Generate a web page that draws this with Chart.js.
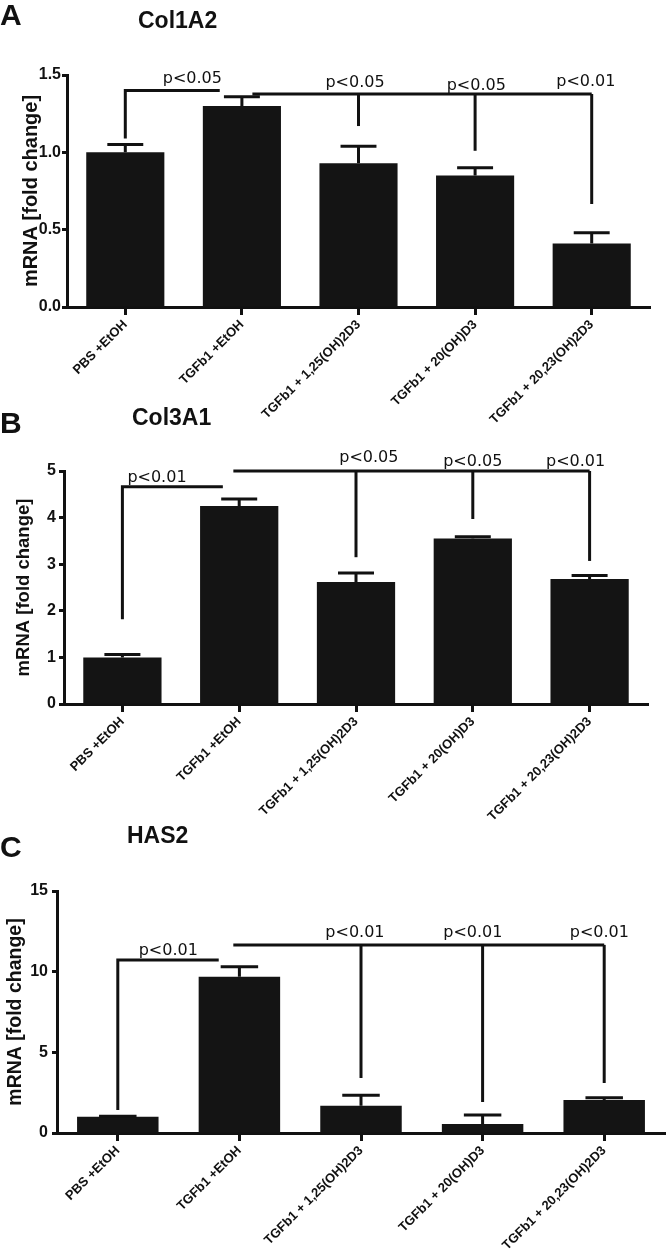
<!DOCTYPE html>
<html lang="en">
<head>
<meta charset="UTF-8">
<title>Col1A2 / Col3A1 / HAS2 mRNA</title>
<script src="https://cdn.jsdelivr.net/npm/chart.js"></script>
<style>
    body { margin: 0; background: #fff; }
    .wrap { position: relative; width: 666px; height: 1251px; overflow: hidden; }
    canvas { position: absolute; left: 0; }
</style>
</head>
<body>
<div class="wrap">
    <canvas id="chartA" width="666" height="430" style="top:0px"></canvas>
    <canvas id="chartB" width="666" height="430" style="top:400px"></canvas>
    <canvas id="chartC" width="666" height="431" style="top:820px"></canvas>
</div>
<script>
const groups = ['PBS +EtOH', 'TGFb1 +EtOH', 'TGFb1 + 1,25(OH)2D3', 'TGFb1 + 20(OH)D3', 'TGFb1 + 20,23(OH)2D3'];

// mean fold change and error (SEM) per group
const col1a2Mean = [1.00, 1.30, 0.93, 0.85, 0.41];
const col1a2Err  = [0.05, 0.06, 0.11, 0.05, 0.07];
const col3a1Mean = [1.00, 4.25, 2.62, 3.55, 2.68];
const col3a1Err  = [0.06, 0.15, 0.19, 0.04, 0.08];
const has2Mean   = [1.00, 9.69, 1.69, 0.56, 2.05];
const has2Err    = [0.04, 0.62, 0.65, 0.56, 0.14];

// significance brackets: points as [category index, value]
const col1a2Brackets = [
    [[0, 1.09], [0, 1.40], [0.81, 1.40]],
    [[1.09, 1.377], [4, 1.377]],
    [[2, 1.377], [2, 1.17]],
    [[3, 1.377], [3, 1.01]],
    [[4, 1.377], [4, 0.666]]
];
const col1a2Pvals = [['p<0.05', 0.575, 1.446], ['p<0.05', 1.97, 1.42], ['p<0.05', 3.01, 1.403], ['p<0.01', 3.95, 1.429]];

const col3a1Brackets = [
    [[0, 1.82], [0, 4.66], [0.86, 4.66]],
    [[0.95, 5.0], [4, 5.0]],
    [[2, 5.0], [2, 3.15]],
    [[3, 5.0], [3, 3.97]],
    [[4, 5.0], [4, 3.07]]
];
const col3a1Pvals = [['p<0.01', 0.296, 4.77], ['p<0.05', 2.11, 5.2], ['p<0.05', 3.0, 5.11], ['p<0.01', 3.88, 5.11]];

const has2Brackets = [
    [[0, 1.43], [0, 10.73], [0.83, 10.73]],
    [[0.95, 11.66], [4, 11.66]],
    [[2, 11.66], [2, 3.41]],
    [[3, 11.66], [3, 1.92]],
    [[4, 11.66], [4, 3.10]]
];
const has2Pvals = [['p<0.01', 0.415, 11.04], ['p<0.01', 1.95, 12.17], ['p<0.01', 2.92, 12.17], ['p<0.01', 3.96, 12.17]];

Chart.defaults.font.family = '"Liberation Sans", Arial, sans-serif';
Chart.defaults.color = '#111';

function makeChart(id, mean, err, brackets, pvals, o) {
    const extras = {
        id: 'extras',
        afterDatasetsDraw(chart) {
            const ctx = chart.ctx, xs = chart.scales.x, ys = chart.scales.y;
            const bars = chart.getDatasetMeta(0).data;
            ctx.save();
            ctx.strokeStyle = '#111';
            ctx.lineWidth = 3;
            // error bars
            bars.forEach((bar, i) => {
                const top = ys.getPixelForValue(mean[i] + err[i]);
                const half = bar.width * 0.23;
                ctx.beginPath();
                ctx.moveTo(bar.x, bar.y);
                ctx.lineTo(bar.x, top);
                ctx.moveTo(bar.x - half, top);
                ctx.lineTo(bar.x + half, top);
                ctx.stroke();
            });
            // brackets
            brackets.forEach(path => {
                ctx.beginPath();
                path.forEach(([i, v], k) => {
                    const px = xs.getPixelForValue(i), py = ys.getPixelForValue(v);
                    if (k) ctx.lineTo(px, py); else ctx.moveTo(px, py);
                });
                ctx.stroke();
            });
            ctx.fillStyle = '#111';
            ctx.font = '16px "DejaVu Sans"';
            ctx.textAlign = 'center';
            ctx.textBaseline = 'alphabetic';
            pvals.forEach(([t, i, v]) => {
                ctx.fillText(t, xs.getPixelForValue(i), ys.getPixelForValue(v));
            });
            // panel letter and title
            ctx.textAlign = 'left';
            ctx.font = 'bold 30px "Liberation Sans"';
            ctx.fillText(o.letter, 0, o.letterY);
            ctx.font = 'bold 23px "Liberation Sans"';
            ctx.fillText(o.title, o.titleX, o.titleY);
            ctx.restore();
        }
    };

    return new Chart(document.getElementById(id), {
        type: 'bar',
        data: {
            labels: groups,
            datasets: [{
                data: mean,
                backgroundColor: '#141414',
                borderWidth: 0,
                barPercentage: 0.67,
                categoryPercentage: 1
            }]
        },
        options: {
            responsive: false,
            animation: false,
            layout: { padding: { top: o.padTop, right: o.padRight, left: 0, bottom: 0 } },
            plugins: { legend: { display: false }, tooltip: { enabled: false } },
            scales: {
                x: {
                    offset: true,
                    grid: { display: true, drawOnChartArea: false, offset: false, tickLength: 8, tickWidth: 3, tickColor: '#111' },
                    border: { display: true, width: 3, color: '#111' },
                    ticks: { maxRotation: 45, minRotation: 45, autoSkip: false, padding: 2, font: { size: 13, weight: 'bold' } },
                    afterFit: s => { s.height = o.xHeight; }
                },
                y: {
                    min: 0,
                    max: o.max,
                    grid: { display: true, drawOnChartArea: false, tickLength: 5, tickWidth: 3, tickColor: '#111' },
                    border: { display: true, width: 3, color: '#111' },
                    ticks: {
                        stepSize: o.step,
                        padding: o.tickPad,
                        font: { size: 16, weight: 'bold' },
                        callback: v => v.toFixed(o.decimals)
                    },
                    title: {
                        display: true,
                        text: 'mRNA [fold change]',
                        font: { size: o.yTitleSize, weight: 'bold' },
                        padding: { top: o.yTitlePad, bottom: 0 }
                    },
                    afterFit: s => { s.width = o.yWidth; }
                }
            }
        },
        plugins: [extras]
    });
}

makeChart('chartA', col1a2Mean, col1a2Err, col1a2Brackets, col1a2Pvals, {
    max: 1.5, step: 0.5, decimals: 1, padTop: 75, padRight: 16, xHeight: 123, yWidth: 67, tickPad: 1,
    yTitleSize: 20, yTitlePad: 19, letter: 'A', letterY: 25, title: 'Col1A2', titleX: 138, titleY: 28
});
makeChart('chartB', col3a1Mean, col3a1Err, col3a1Brackets, col3a1Pvals, {
    max: 5, step: 1, decimals: 0, padTop: 71, padRight: 18, xHeight: 126, yWidth: 64, tickPad: 3,
    yTitleSize: 18.5, yTitlePad: 13, letter: 'B', letterY: 33, title: 'Col3A1', titleX: 132, titleY: 25
});
makeChart('chartC', has2Mean, has2Err, has2Brackets, has2Pvals, {
    max: 15, step: 5, decimals: 0, padTop: 71, padRight: 1, xHeight: 118, yWidth: 57, tickPad: 4,
    yTitleSize: 19.5, yTitlePad: 4, letter: 'C', letterY: 37, title: 'HAS2', titleX: 127, titleY: 23
});
</script>
</body>
</html>
